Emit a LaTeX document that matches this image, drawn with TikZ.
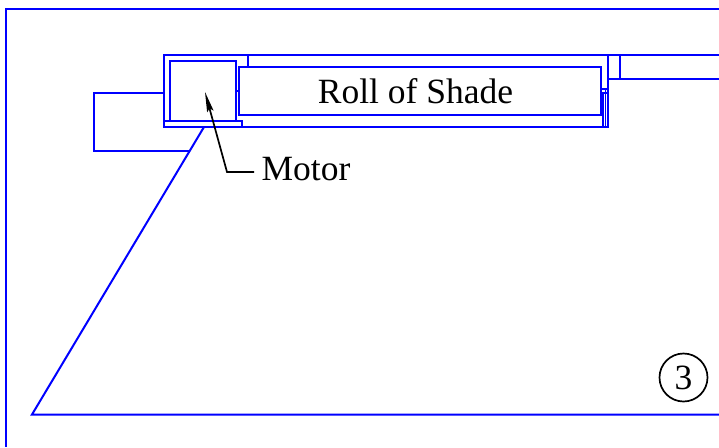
\documentclass[tikz,border=0pt]{standalone}
\usepackage{fontspec}
\setmainfont{Liberation Serif}
\usetikzlibrary{arrows.meta}
\tikzset{
  part/.style={draw=blue,line width=2pt,line join=miter},
  thinpart/.style={draw=blue,line width=1.5pt},
  lead/.style={draw=black,line width=1.7pt},
  tip/.style={-{Stealth[length=20pt,width=6.5pt,inset=3pt]}},
  lbl/.style={font=\fontsize{35.5}{36}\selectfont,inner sep=0pt,anchor=base,text=black},
  numring/.style={circle,draw=black,line width=1.7pt,minimum size=48pt,inner sep=0pt,font=\fontsize{35.5}{36}\selectfont}
}
\begin{document}
\begin{tikzpicture}[x=1pt,y=-1pt]
\useasboundingbox (0,0) rectangle (719,447);
\fill[white] (0,0) rectangle (719,447);
% frame
\draw[part] (719,9) -- (6,9) -- (6,447);
% shade outline
\draw[part] (719,414.5) -- (32,414.5) -- (204,127);
% left box
\draw[part] (164,93) -- (94,93) -- (94,151) -- (190,151);
% housing
\draw[part] (719,55) -- (164,55) -- (164,127) -- (608,127) -- (608,55);
\draw[part] (608,79) -- (719,79);
\draw[part] (620,55) -- (620,79);
\draw[part] (248,55) -- (248,67);
% motor box
\draw[part] (170,61) rectangle (236,121);
\draw[part] (164,121) -- (242,121) -- (242,127);
\draw[part] (236,91) -- (239,91);
% roll box
\draw[part] (239,67) rectangle (600.5,114.5);
% right detail
\draw[thinpart] (600,89) -- (608,89);
\draw[thinpart] (600,93) -- (608,93);
\draw[thinpart] (603,93) -- (603,127);
\draw[thinpart] (605.5,89) -- (605.5,127);
% labels
\node[lbl] (roll) at (415.5,103) {Roll of Shade};
\node[lbl] (motor) at (306,180) {Motor};
\node[numring] (num) at (683.5,377.5) {3};
\coordinate (motorpt) at (205,92);
\coordinate (elbow) at (227,172);
\coordinate (leadstart) at (254,172);
\draw[lead,tip] (leadstart) -- (elbow) -- (motorpt);
\end{tikzpicture}
\end{document}
